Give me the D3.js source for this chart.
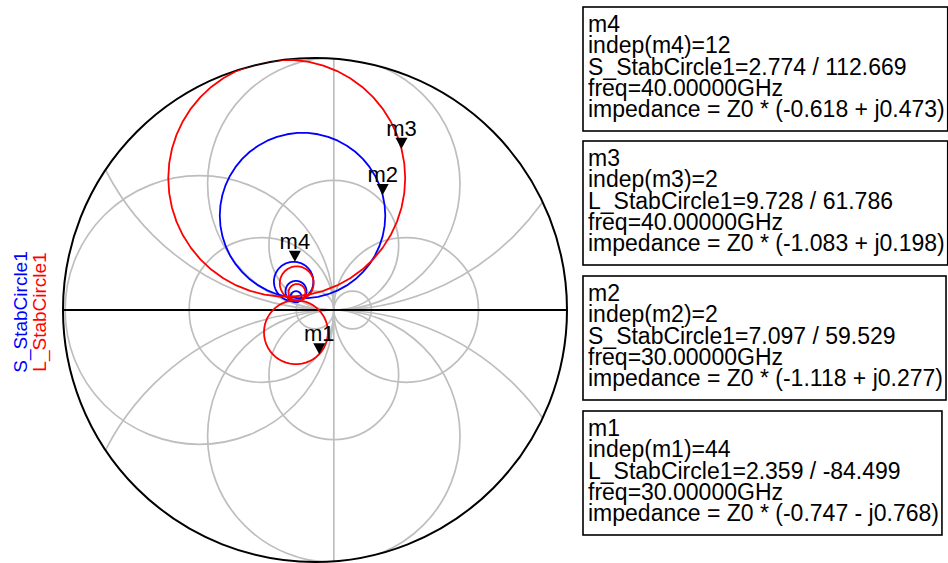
<!DOCTYPE html>
<html>
<head>
<meta charset="utf-8">
<script src="https://cdn.jsdelivr.net/npm/d3@7"></script>
<style>
  html, body { margin: 0; padding: 0; background: #fff; }
  svg { display: block; font-family: "Liberation Sans", Arial, sans-serif; }
</style>
</head>
<body>
<svg id="chart" width="948" height="563"></svg>
<script>
// ---- Stability circles in the reflection-coefficient plane, one per frequency ----
const freqsGHz   = [10, 20, 30, 40];
const sCenterRe  = [-1.01, -1.01, -0.663, -1.135];
const sCenterIm  = [0.71, 0.99, 5.023, 1.512];
const sRadius    = [0.29, 0.56, 4.40, 1.05];
const lCenterRe  = [-0.96, -0.973, -1.013, -1.503];
const lCenterIm  = [0.93, 1.42, -1.184, 7.006];
const lRadius    = [0.45, 0.90, 1.70, 6.30];
const circlePoints = 51;           // samples per stability circle (indep = 0..50)

// ---- Smith chart grid (normalised resistance / reactance circles) ----
const gammaMax       = 13.4;       // |Γ| at the chart rim
const resistanceGrid = [0, -0.74, -0.86, -1, -1.26, -2];
const reactanceGrid  = [0.29, -0.29, 0.149, -0.149, 0.0735, -0.0735];

// ---- Markers ----
const markerNames  = ["m4", "m3", "m2", "m1"];
const markerIndep  = [12, 2, 2, 44];
const markerTrace  = ["S_StabCircle1", "L_StabCircle1", "S_StabCircle1", "L_StabCircle1"];
const markerMag    = [2.774, 9.728, 7.097, 2.359];
const markerAngle  = [112.669, 61.786, 59.529, -84.499];
const markerFreq   = ["40.00000GHz", "40.00000GHz", "30.00000GHz", "30.00000GHz"];
const markerZre    = [-0.618, -1.083, -1.118, -0.747];
const markerZim    = [0.473, 0.198, 0.277, -0.768];

const traceNames  = ["S_StabCircle1", "L_StabCircle1"];
const traceColors = ["#0000ff", "#ff0000"];

// ---- Layout ----
const cx = 315, cy = 310, R = 252;
const svg = d3.select("#chart");
const gx = d3.scaleLinear().domain([-gammaMax, gammaMax]).range([cx - R, cx + R]);
const gy = d3.scaleLinear().domain([-gammaMax, gammaMax]).range([cy + R, cy - R]);
const len = v => gx(v) - gx(0);

svg.append("clipPath").attr("id", "rim")
  .append("circle").attr("cx", cx).attr("cy", cy).attr("r", R);

const grid = svg.append("g").attr("clip-path", "url(#rim)")
  .attr("fill", "none").attr("stroke", "#bebebe").attr("stroke-width", 1.7);

// constant-resistance circles
resistanceGrid.forEach(r => {
  if (r === -1) {
    grid.append("line")
      .attr("x1", gx(1)).attr("x2", gx(1))
      .attr("y1", gy(gammaMax)).attr("y2", gy(-gammaMax));
  } else {
    const c = r / (1 + r), rad = 1 / Math.abs(1 + r);
    grid.append("circle").attr("cx", gx(c)).attr("cy", gy(0)).attr("r", len(rad));
  }
});
// constant-reactance circles
reactanceGrid.forEach(x => {
  const rad = 1 / Math.abs(x);
  grid.append("circle").attr("cx", gx(1)).attr("cy", gy(1 / x)).attr("r", len(rad));
});

// real axis and rim
svg.append("line")
  .attr("x1", gx(-gammaMax)).attr("x2", gx(gammaMax))
  .attr("y1", gy(0)).attr("y2", gy(0))
  .attr("stroke", "#000").attr("stroke-width", 1.8);
svg.append("circle").attr("cx", cx).attr("cy", cy).attr("r", R)
  .attr("fill", "none").attr("stroke", "#000").attr("stroke-width", 2);

// ---- Traces ----
const line = d3.line().x(d => gx(d[0])).y(d => gy(d[1]));
function circlePath(cRe, cIm, rad) {
  const pts = d3.range(circlePoints).map(i => {
    const a = 2 * Math.PI * i / (circlePoints - 1);
    return [cRe + rad * Math.cos(a), cIm + rad * Math.sin(a)];
  });
  return line(pts);
}
const traces = svg.append("g").attr("clip-path", "url(#rim)").attr("fill", "none")
  .attr("stroke-width", 1.8).attr("stroke-linejoin", "round");
const series = [
  { re: sCenterRe, im: sCenterIm, rad: sRadius, color: traceColors[0] },
  { re: lCenterRe, im: lCenterIm, rad: lRadius, color: traceColors[1] }
];
series.forEach(s => {
  freqsGHz.forEach((f, k) => {
    traces.append("path")
      .attr("d", circlePath(s.re[k], s.im[k], s.rad[k]))
      .attr("stroke", s.color);
  });
});

// ---- Marker glyphs on the chart ----
const mk = svg.append("g");
markerNames.forEach((name, i) => {
  const a = markerAngle[i] * Math.PI / 180;
  const px = gx(markerMag[i] * Math.cos(a));
  const py = gy(markerMag[i] * Math.sin(a));
  mk.append("path")
    .attr("d", `M${px},${py} L${px - 6},${py - 11} L${px + 6},${py - 11} Z`)
    .attr("fill", "#000");
  mk.append("text")
    .attr("x", px).attr("y", py - 13)
    .attr("text-anchor", "middle")
    .attr("font-size", 22)
    .text(name);
});

// ---- Trace legend (rotated) ----
traceNames.forEach((t, i) => {
  svg.append("text")
    .attr("transform", `translate(${27 + i * 19},312) rotate(-90)`)
    .attr("text-anchor", "middle")
    .attr("font-size", 19)
    .attr("fill", traceColors[i])
    .text(t);
});

// ---- Marker readout boxes ----
const boxLeft = 583, boxTops = [7, 141, 276, 411], boxH = 124;
markerNames.forEach((name, i) => {
  const ang = markerAngle[i].toFixed(3);
  const sign = markerZim[i] < 0 ? "-" : "+";
  const lines = [
    name,
    `indep(${name})=${markerIndep[i]}`,
    `${markerTrace[i]}=${markerMag[i].toFixed(3)} / ${ang}`,
    `freq=${markerFreq[i]}`,
    `impedance = Z0 * (${markerZre[i].toFixed(3)} ${sign} j${Math.abs(markerZim[i]).toFixed(3)})`
  ];
  const g = svg.append("g");
  const rect = g.append("rect")
    .attr("x", boxLeft).attr("y", boxTops[i]).attr("height", boxH)
    .attr("fill", "#fff").attr("stroke", "#000").attr("stroke-width", 1.6);
  let w = 0;
  lines.forEach((s, j) => {
    const t = g.append("text")
      .attr("x", boxLeft + 5).attr("y", boxTops[i] + 25 + j * 21.3)
      .attr("font-size", 23).text(s);
    w = Math.max(w, t.node().getComputedTextLength());
  });
  rect.attr("width", w + 8);
});
</script>
</body>
</html>
